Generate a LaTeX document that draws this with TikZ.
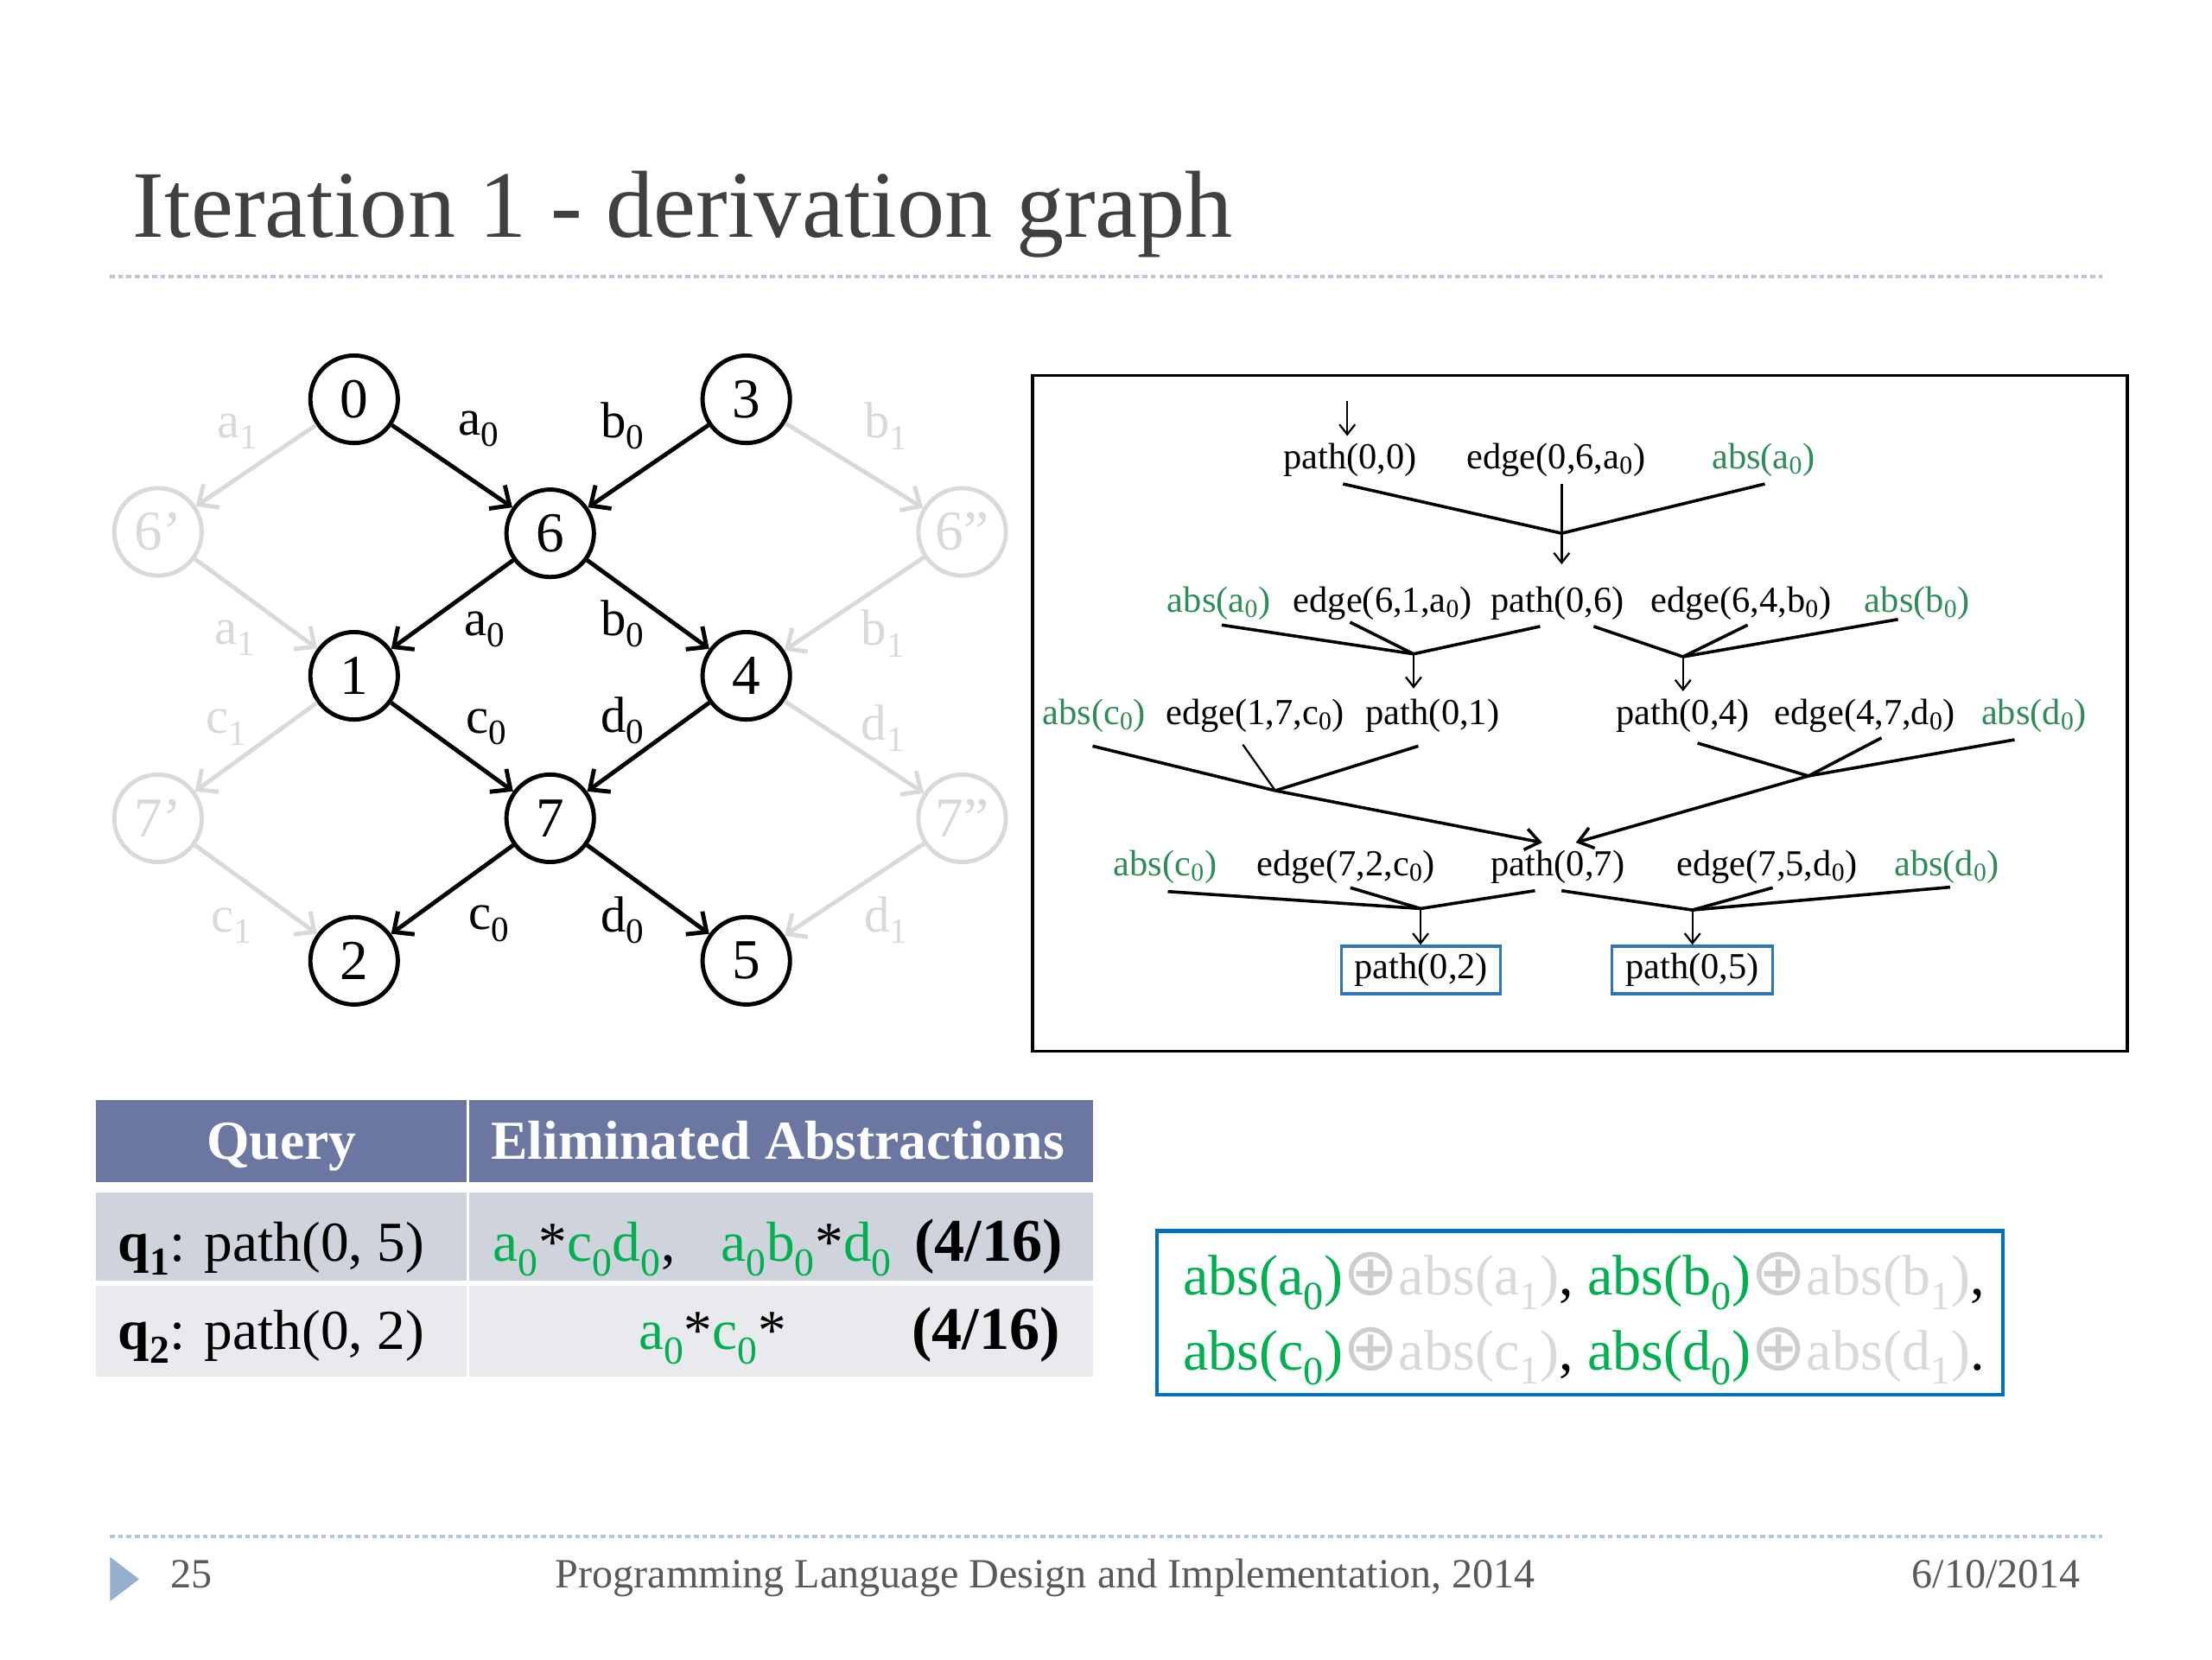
\documentclass[tikz,border=0pt]{standalone}
\usepackage{fontspec}
\setmainfont{Liberation Serif}
\newfontfamily\symfnt{DejaVu Sans}
\usetikzlibrary{arrows.meta}
\definecolor{titlegray}{RGB}{64,64,64}
\definecolor{footgray}{RGB}{89,89,89}
\definecolor{dashc}{RGB}{184,198,217}
\definecolor{tri}{RGB}{148,176,206}
\definecolor{ghost}{RGB}{217,217,217}
\definecolor{ghostsym}{RGB}{205,205,205}
\definecolor{treegreen}{RGB}{46,140,88}
\definecolor{brightgreen}{RGB}{0,176,80}
\definecolor{boxblue}{RGB}{46,117,182}
\definecolor{bluebox}{RGB}{0,112,192}
\definecolor{hdr}{RGB}{107,118,161}
\definecolor{rowa}{RGB}{207,211,219}
\definecolor{rowb}{RGB}{233,234,238}
\newcommand{\sbz}[1]{\textsubscript{#1}}
\newcommand{\fs}[1]{\fontsize{#1}{#1}\selectfont}
\newcommand{\gr}[1]{\textcolor{brightgreen}{#1}}
\newcommand{\gy}[1]{\textcolor{ghost}{#1}}
\newcommand{\oplussym}{\textcolor{ghostsym}{{\symfnt\fontsize{47}{47}\selectfont ⊕}}}
\begin{document}
\begin{tikzpicture}[x=1pt,y=-1pt,
  gnode/.style={circle,draw,line width=3pt,minimum size=62pt,inner sep=0pt,font=\fs{40}},
  ghostnode/.style={gnode,draw=ghost,text=ghost},
  gedge/.style={line width=3pt,-{Straight Barb[length=11pt,width=20pt]}},
  ghostedge/.style={gedge,draw=ghost},
  elab/.style={font=\fs{36},inner sep=0pt},
  glab/.style={elab,text=ghost},
  tt/.style={font=\fs{26},inner sep=1pt,anchor=base},
  tg/.style={tt,text=treegreen},
  tline/.style={line width=2.2pt},
  tarr/.style={line width=1.4pt,-{Straight Barb[length=7pt,width=11pt]}},
  barr/.style={line width=2.2pt,-{Straight Barb[length=10pt,width=15pt]}},
  pbox/.style={draw=boxblue,line width=2pt,font=\fs{26},inner sep=0pt,minimum height=33.7pt},
  tab/.style={font=\fs{40},inner sep=0pt,anchor=base west},
  frac/.style={font=\fs{43}\bfseries,inner sep=0pt,anchor=base west},
  foot/.style={font=\fs{29.5},text=footgray,inner sep=0pt}
]
\useasboundingbox (0,0) rectangle (1568,1176);
\fill[white] (0,0) rectangle (1568,1176);

% title
\node[anchor=base west,inner sep=0pt,font=\fs{67.5},text=titlegray] (title) at (94,168.4) {Iteration 1 - derivation graph};
\draw[dashc,line width=2pt,dash pattern=on 3.5pt off 2.5pt] (77.7,196) -- (1490,196);

% footer
\draw[dashc,line width=2pt,dash pattern=on 3.5pt off 2.5pt] (77.7,1089) -- (1490,1089);
\fill[tri] (78,1103.5) -- (98.6,1119.3) -- (78,1135) -- cycle;
\node[foot,anchor=base west] (pg) at (121,1125.7) {25};
\node[foot,anchor=base] (conf) at (741,1125.7) {Programming Language Design and Implementation, 2014};
\node[foot,anchor=base east] (date) at (1475,1125.7) {6/10/2014};

% graph
\node[ghostnode] (n6a) at (112,377) {6’};
\node[ghostnode] (n6b) at (682,377) {6”};
\node[ghostnode] (n7a) at (112,580) {7’};
\node[ghostnode] (n7b) at (682,580) {7”};
\node[gnode] (n0) at (251,283) {0};
\node[gnode] (n3) at (529,283) {3};
\node[gnode] (n6) at (390,378) {6};
\node[gnode] (n1) at (251,479) {1};
\node[gnode] (n4) at (529,479) {4};
\node[gnode] (n7) at (390,580) {7};
\node[gnode] (n2) at (251,681) {2};
\node[gnode] (n5) at (529,681) {5};

\draw[ghostedge] (n0) -- (n6a);
\draw[ghostedge] (n6a) -- (n1);
\draw[ghostedge] (n3) -- (n6b);
\draw[ghostedge] (n6b) -- (n4);
\draw[ghostedge] (n1) -- (n7a);
\draw[ghostedge] (n7a) -- (n2);
\draw[ghostedge] (n4) -- (n7b);
\draw[ghostedge] (n7b) -- (n5);

\draw[gedge] (n0) -- (n6);
\draw[gedge] (n3) -- (n6);
\draw[gedge] (n6) -- (n1);
\draw[gedge] (n6) -- (n4);
\draw[gedge] (n1) -- (n7);
\draw[gedge] (n4) -- (n7);
\draw[gedge] (n7) -- (n2);
\draw[gedge] (n7) -- (n5);

\node[elab] (la1) at (339.7,304) {a\sbz{0}};
\node[elab] (lb1) at (441.5,302) {b\sbz{0}};
\node[glab] (lga1) at (168.7,306) {a\sbz{1}};
\node[glab] (lgb1) at (628.4,302) {b\sbz{1}};
\node[elab] (la2) at (344,446) {a\sbz{0}};
\node[elab] (lb2) at (441.5,442) {b\sbz{0}};
\node[glab] (lga2) at (166.5,452) {a\sbz{1}};
\node[glab] (lgb2) at (626,449) {b\sbz{1}};
\node[elab] (lc1) at (344.8,515.5) {c\sbz{0}};
\node[elab] (ld1) at (441.5,510.8) {d\sbz{0}};
\node[glab] (lgc1) at (160.6,515.5) {c\sbz{1}};
\node[glab] (lgd1) at (626,516) {d\sbz{1}};
\node[elab] (lc2) at (347,654.6) {c\sbz{0}};
\node[elab] (ld2) at (441.5,652) {d\sbz{0}};
\node[glab] (lgc2) at (164,656) {c\sbz{1}};
\node[glab] (lgd2) at (628.4,652) {d\sbz{1}};

% derivation box
\node[draw,line width=2.2pt,minimum width=776pt,minimum height=479pt,inner sep=0pt] (dbox) at (1120,505.5) {};

% row 1
\node[tt] (r1a) at (957,332) {path(0,0)};
\node[tt] (r1b) at (1103,332) {edge(0,6,a\sbz{0})};
\node[tg] (r1c) at (1250,332) {abs(a\sbz{0})};
% row 2
\node[tg] (r2a) at (864,434) {abs(a\sbz{0})};
\node[tt] (r2b) at (980,434) {edge(6,1,a\sbz{0})};
\node[tt] (r2c) at (1104,434) {path(0,6)};
\node[tt] (r2d) at (1234,434) {edge(6,4,b\sbz{0})};
\node[tg] (r2e) at (1359,434) {abs(b\sbz{0})};
% row 3
\node[tg] (r3a) at (775.5,513.5) {abs(c\sbz{0})};
\node[tt] (r3b) at (889.7,513.5) {edge(1,7,c\sbz{0})};
\node[tt] (r3c) at (1015.5,513.5) {path(0,1)};
\node[tt] (r3d) at (1193,513.5) {path(0,4)};
\node[tt] (r3e) at (1322,513.5) {edge(4,7,d\sbz{0})};
\node[tg] (r3f) at (1441.8,513.5) {abs(d\sbz{0})};
% row 4
\node[tg] (r4a) at (826,620.6) {abs(c\sbz{0})};
\node[tt] (r4b) at (954,620.6) {edge(7,2,c\sbz{0})};
\node[tt] (r4c) at (1104.3,620.6) {path(0,7)};
\node[tt] (r4d) at (1252.6,620.6) {edge(7,5,d\sbz{0})};
\node[tg] (r4e) at (1380,620.6) {abs(d\sbz{0})};
% result boxes
\node[pbox,minimum width=112.8pt] (p02) at (1007.4,687.5) {path(0,2)};
\node[pbox,minimum width=114.2pt] (p05) at (1199.5,687.5) {path(0,5)};

% tree coordinates
\coordinate (t0s) at (955,284);
\coordinate (t0e) at (955,309);
\coordinate (s1a) at (952,343);
\coordinate (s1b) at (1107,343);
\coordinate (s1c) at (1251,343);
\coordinate (j1) at (1107,378);
\coordinate (e1) at (1107,400);
\coordinate (s2a) at (866,443);
\coordinate (s2b) at (957,441);
\coordinate (s2c) at (1091.7,444);
\coordinate (j2l) at (1002,463.5);
\coordinate (e2l) at (1002,488);
\coordinate (s2d) at (1129.7,444);
\coordinate (s2e) at (1238.8,443);
\coordinate (s2f) at (1345.4,439);
\coordinate (j2r) at (1193,465.5);
\coordinate (e2r) at (1193,490);
\coordinate (s3a) at (774.5,528.8);
\coordinate (s3b) at (881,527.8);
\coordinate (s3c) at (1005.4,528.8);
\coordinate (j3l) at (904,560.4);
\coordinate (e3l) at (1093.2,597.2);
\coordinate (s3d) at (1203.3,526.7);
\coordinate (s3e) at (1333.7,523);
\coordinate (s3f) at (1428,524.3);
\coordinate (j3r) at (1282,550);
\coordinate (e3r) at (1117,597.2);
\coordinate (s4a) at (827.8,631.9);
\coordinate (s4b) at (957.2,629.2);
\coordinate (s4c) at (1088.1,631.3);
\coordinate (j4l) at (1007,644);
\coordinate (s4d) at (1106.9,631.3);
\coordinate (s4e) at (1256.6,629.2);
\coordinate (s4f) at (1382.4,628.8);
\coordinate (j4r) at (1199.7,645);

\draw[tarr] (t0s) -- (t0e);
\draw[tline] (s1a) -- (j1) -- (s1c);
\draw[tarr] (s1b) -- (e1);
\draw[tline] (s2a) -- (j2l) -- (s2c);
\draw[tline] (s2b) -- (j2l);
\draw[tarr] (j2l) -- (e2l);
\draw[tline] (s2d) -- (j2r) -- (s2f);
\draw[tline] (s2e) -- (j2r);
\draw[tarr] (j2r) -- (e2r);
\draw[tline] (s3a) -- (j3l);
\draw[tline] (s3c) -- (j3l);
\draw[line width=1.4pt] (s3b) -- (j3l);
\draw[barr] (j3l) -- (e3l);
\draw[tline] (s3d) -- (j3r);
\draw[tline] (s3e) -- (j3r);
\draw[tline] (s3f) -- (j3r);
\draw[barr] (j3r) -- (e3r);
\draw[tline] (s4a) -- (j4l) -- (s4c);
\draw[tline] (s4b) -- (j4l);
\draw[tarr] (j4l) -- (j4l |- p02.north);
\draw[tline] (s4d) -- (j4r) -- (s4f);
\draw[tline] (s4e) -- (j4r);
\draw[tarr] (j4r) -- (j4r |- p05.north);

% table
\fill[hdr] (68,779.5) rectangle (775,838);
\fill[rowa] (68,845) rectangle (775,907.5);
\fill[rowb] (68,911.6) rectangle (775,975.9);
\draw[white,line width=2pt] (331.6,779.5) -- (331.6,975.9);
\node[anchor=base,inner sep=0pt,text=white,font=\fs{39}\bfseries] (hq) at (199.5,821.7) {Query};
\node[anchor=base west,inner sep=0pt,text=white,font=\fs{39}\bfseries] (he) at (348,821.7) {Eliminated Abstractions};
\node[tab] (q1) at (83.7,894) {\textbf{q\sbz{1}}: path(0, 5)};
\node[tab] (e1a) at (349.5,894) {\gr{a\sbz{0}}*\gr{c\sbz{0}d\sbz{0}},};
\node[tab] (e1b) at (511,894) {\gr{a\sbz{0}b\sbz{0}}*\gr{d\sbz{0}}};
\node[frac] (e1c) at (648,894) {(4/16)};
\node[tab] (q2) at (83.7,956.5) {\textbf{q\sbz{2}}: path(0, 2)};
\node[tab] (e2a) at (452.6,956.5) {\gr{a\sbz{0}}*\gr{c\sbz{0}}*};
\node[frac] (e2c) at (646,956.5) {(4/16)};

% abstraction box
\node[draw=bluebox,line width=2.5pt,minimum width=600pt,minimum height=116pt,inner sep=0pt] (abox) at (1120,930.5) {};
\node[anchor=base west,inner sep=0pt,font=\fs{40.5}] (al1) at (838.4,918) {\gr{abs(a\sbz{0})}\oplussym\gy{abs(a\sbz{1})}, \gr{abs(b\sbz{0})}\oplussym\gy{abs(b\sbz{1})},};
\node[anchor=base west,inner sep=0pt,font=\fs{40.5}] (al2) at (838.4,971) {\gr{abs(c\sbz{0})}\oplussym\gy{abs(c\sbz{1})}, \gr{abs(d\sbz{0})}\oplussym\gy{abs(d\sbz{1})}.};
\end{tikzpicture}
\end{document}
